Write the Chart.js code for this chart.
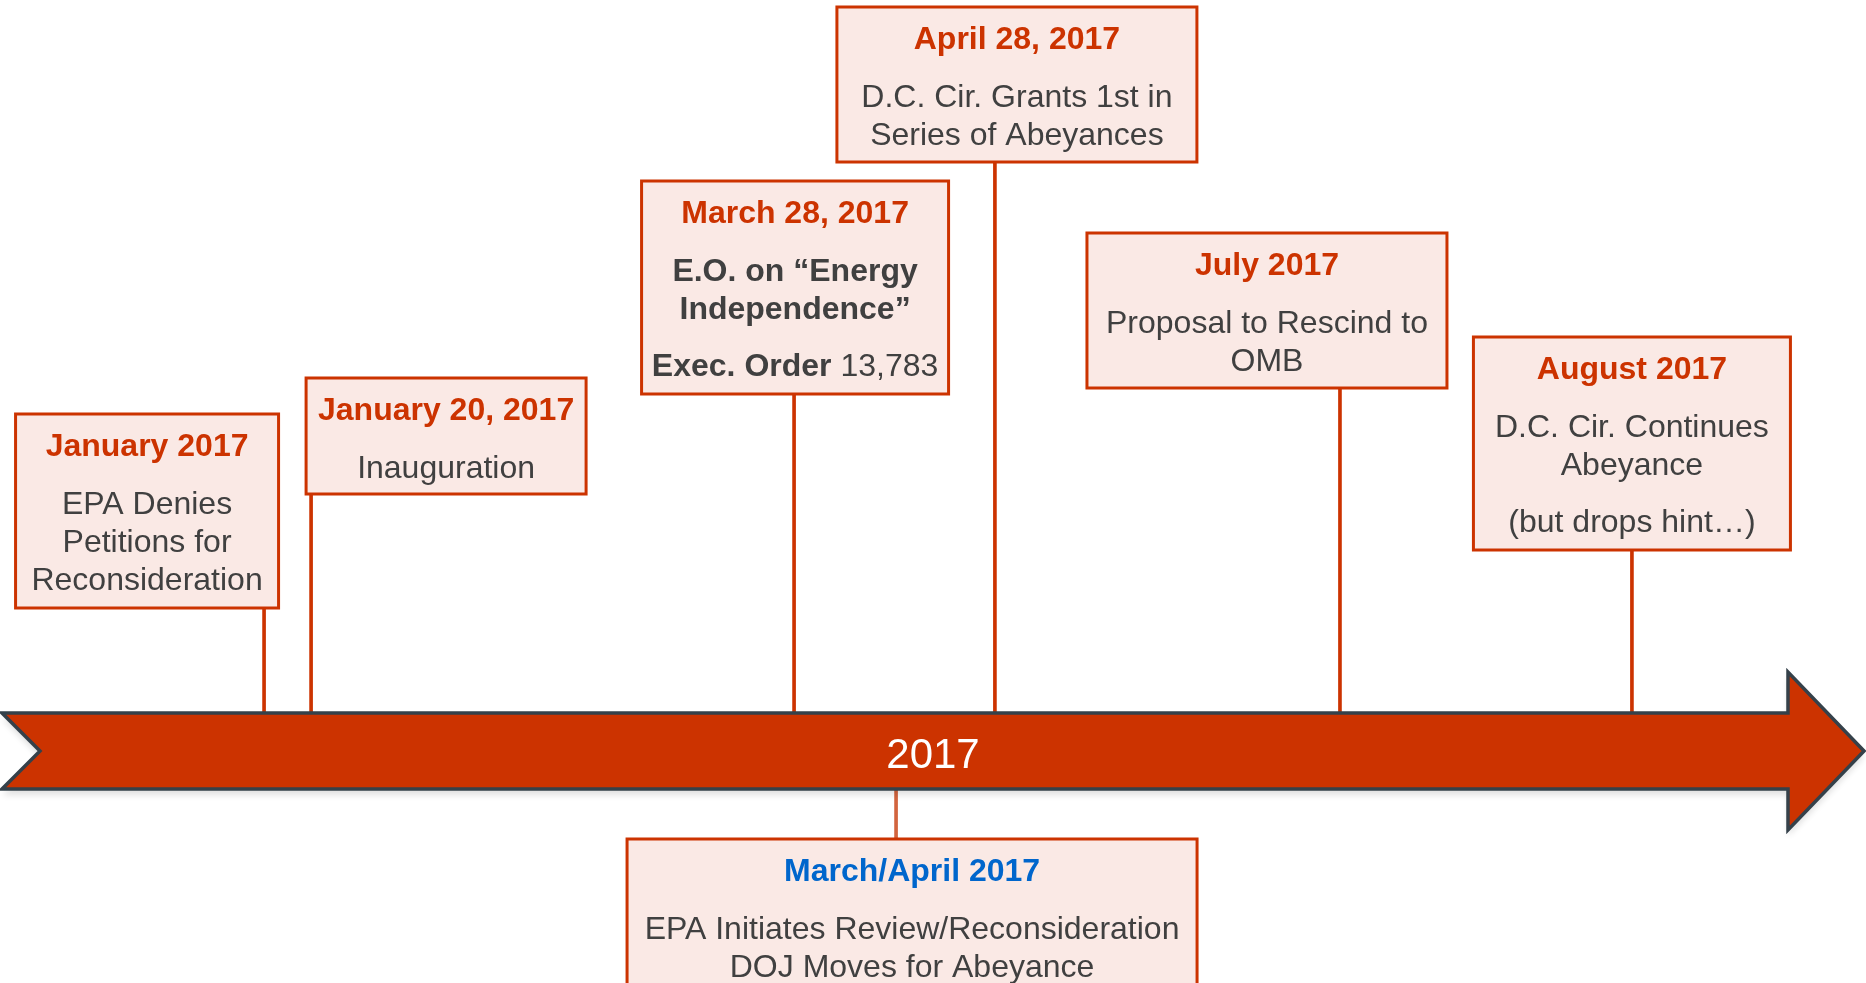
<!DOCTYPE html>
<html>
<head>
<meta charset="utf-8">
<script src="https://cdn.jsdelivr.net/npm/chart.js@4.4.1/dist/chart.umd.min.js"></script>
<style>
html,body{margin:0;padding:0;background:#ffffff;overflow:hidden}
#wrap{width:1866px;height:983px;position:relative}
</style>
</head>
<body>
<div id="wrap"><canvas id="c"></canvas></div>
<script>
// ---------- data ----------
const timelineLabel = '2017';
const eventTitles = ['January 2017','January 20, 2017','March 28, 2017','March/April 2017','April 28, 2017','July 2017','August 2017'];
// position of each event on the timeline, in months after Jan 1 2017
const eventMonths = [0.407, 0.632, 2.943, 3.431, 3.904, 5.555, 6.952];
const eventSides = ['above','above','above','below','above','above','above'];
// body text: paragraphs -> lines -> runs [text, bold]
const eventBodies = [
  [[[['EPA Denies',false]],[['Petitions for',false]],[['Reconsideration',false]]]],
  [[[['Inauguration',false]]]],
  [[[['E.O. on \u201cEnergy',true]],[['Independence\u201d',true]]],[[['Exec. Order',true],[' 13,783',false]]]],
  [[[['EPA Initiates Review/Reconsideration',false]],[['DOJ Moves for Abeyance',false]]]],
  [[[['D.C. Cir. Grants 1st in',false]],[['Series of Abeyances',false]]]],
  [[[['Proposal to Rescind to',false]],[['OMB',false]]]],
  [[[['D.C. Cir. Continues',false]],[['Abeyance',false]]],[[['(but drops hint\u2026)',false]]]]
];
const titleColors = ['#cc3300','#cc3300','#cc3300','#0066cc','#cc3300','#cc3300','#cc3300'];

// ---------- layout / style (not data) ----------
const boxLayout = [
  {dx:-117, w:263, h:194, stem:143},
  {dx:135,  w:280, h:116, stem:257},
  {dx:1,    w:307, h:213, stem:357},
  {dx:16,   w:570, h:175, stem:-88},
  {dx:22,   w:360, h:155, stem:589},
  {dx:-73,  w:360, h:155, stem:363},
  {dx:0,    w:317, h:213, stem:201}
];
const bandHalf = 38;
const RED = '#cc3300';
const OUTLINE = '#35414a';
const BOXFILL = '#fae9e5';
const TEXT = '#404040';
const FONT = '"Liberation Sans", Arial, sans-serif';

const timelinePlugin = {
  id: 'timeline',
  afterDatasetsDraw(chart) {
    const ctx = chart.ctx;
    const xs = chart.scales.x, ys = chart.scales.y;
    const area = chart.chartArea;
    const top = ys.getPixelForValue(bandHalf);
    const bot = ys.getPixelForValue(-bandHalf);
    const cy = ys.getPixelForValue(0);
    const left = area.left + 2, right = area.right - 2;
    const headBase = area.right - 78, headHalf = 79;

    // arrow band
    ctx.save();
    ctx.beginPath();
    ctx.moveTo(left, top);
    ctx.lineTo(headBase, top);
    ctx.lineTo(headBase, cy - headHalf);
    ctx.lineTo(right, cy);
    ctx.lineTo(headBase, cy + headHalf);
    ctx.lineTo(headBase, bot);
    ctx.lineTo(left, bot);
    ctx.lineTo(left + 38, cy);
    ctx.closePath();
    ctx.shadowColor = 'rgba(0,0,0,0.12)';
    ctx.shadowOffsetY = 6;
    ctx.shadowBlur = 6;
    ctx.fillStyle = RED;
    ctx.fill();
    ctx.shadowColor = 'transparent';
    ctx.lineWidth = 3.5;
    ctx.lineJoin = 'miter';
    ctx.strokeStyle = OUTLINE;
    ctx.stroke();
    ctx.fillStyle = '#ffffff';
    ctx.font = '42px ' + FONT;
    ctx.textAlign = 'center';
    ctx.textBaseline = 'middle';
    ctx.fillText(timelineLabel, (area.left + area.right) / 2, cy + 5);
    ctx.restore();

    // boxes
    eventTitles.forEach((title, i) => {
      const L = boxLayout[i];
      const sx = xs.getPixelForValue(eventMonths[i]);
      const cx = sx + L.dx;
      const edge = ys.getPixelForValue(L.stem);
      const bTop = eventSides[i] === 'above' ? edge - L.h : edge;
      const bLeft = cx - L.w / 2;
      ctx.save();
      ctx.fillStyle = BOXFILL;
      ctx.fillRect(bLeft, bTop, L.w, L.h);
      ctx.lineWidth = 3;
      ctx.strokeStyle = RED;
      ctx.strokeRect(bLeft, bTop, L.w, L.h);
      ctx.textBaseline = 'middle';
      ctx.textAlign = 'left';
      ctx.font = 'bold 32px ' + FONT;
      ctx.fillStyle = titleColors[i];
      const tw = ctx.measureText(title).width;
      ctx.fillText(title, cx - tw / 2, bTop + 33);
      let y = bTop + 91;
      eventBodies[i].forEach((para, pi) => {
        if (pi > 0) y += 19;
        para.forEach(line => {
          let total = 0;
          line.forEach(r => { ctx.font = (r[1] ? 'bold ' : '') + '32px ' + FONT; total += ctx.measureText(r[0]).width; });
          let x = cx - total / 2;
          line.forEach(r => {
            ctx.font = (r[1] ? 'bold ' : '') + '32px ' + FONT;
            ctx.fillStyle = TEXT;
            ctx.fillText(r[0], x, y);
            x += ctx.measureText(r[0]).width;
          });
          y += 38;
        });
      });
      ctx.restore();
    });
  }
};

new Chart(document.getElementById('c'), {
  type: 'bar',
  data: {
    datasets: [{
      data: eventMonths.map((m, i) => ({x: m, y: [eventSides[i] === 'above' ? bandHalf : -bandHalf, boxLayout[i].stem]})),
      backgroundColor: eventSides.map(s => s === 'above' ? RED : '#d2643e'),
      barThickness: 3,
      borderWidth: 0,
      borderSkipped: false
    }]
  },
  options: {
    responsive: true,
    maintainAspectRatio: false,
    animation: false,
    devicePixelRatio: 1,
    layout: {padding: 0},
    plugins: {legend: {display: false}, tooltip: {enabled: false}},
    scales: {
      x: {type: 'linear', min: -0.8565, max: 8.072, display: false, offset: false, grid: {offset: false}},
      y: {min: -232, max: 751, display: false}
    }
  },
  plugins: [timelinePlugin]
});
</script>
</body>
</html>
